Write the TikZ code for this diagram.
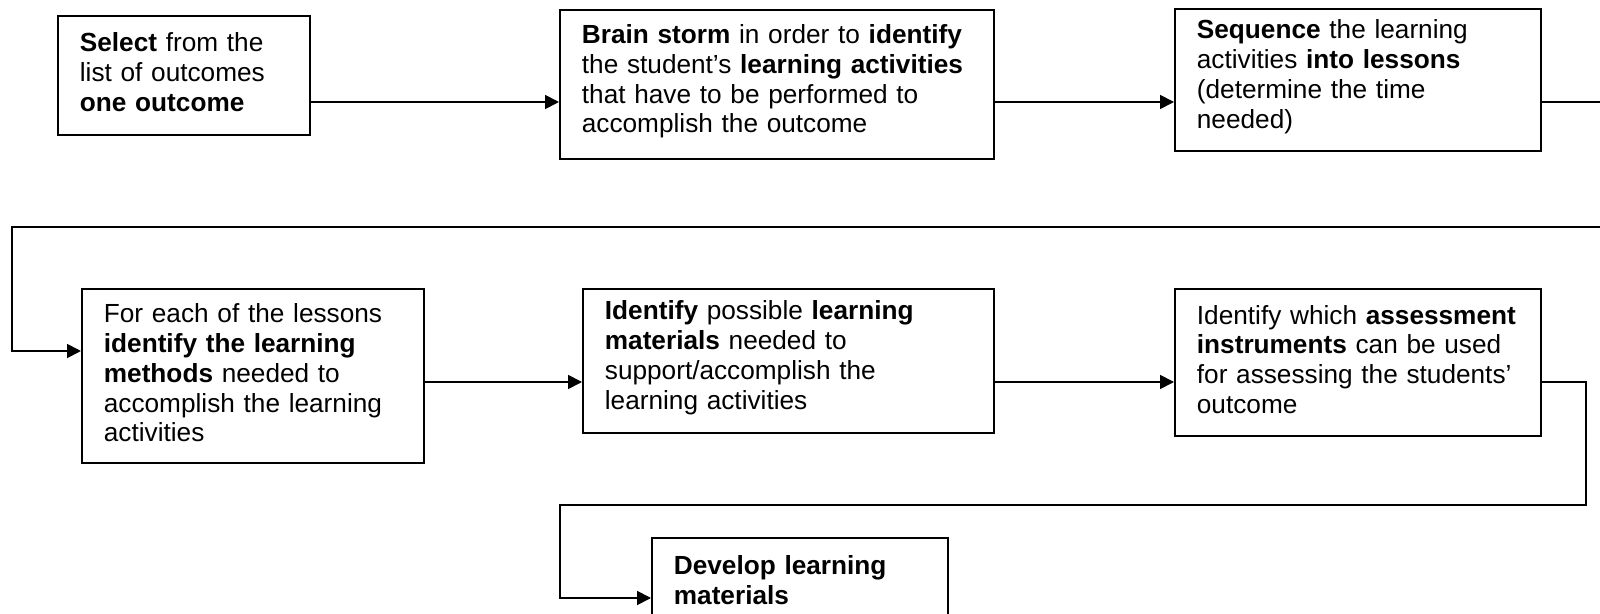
\documentclass[tikz,border=0pt]{standalone}
\usepackage{fontspec}
\setmainfont{Liberation Sans}
\usetikzlibrary{arrows.meta}

\begin{document}
\begin{tikzpicture}[x=0.5pt,y=-0.5pt,>={Triangle[length=7pt,width=7pt]},
    stage/.style 2 args={draw,line width=0.9pt,anchor=north west,align=left,
      inner xsep=11pt,inner ysep=0pt,text width=#1,minimum height=#2,
      font=\fontsize{13.1}{14.9}\selectfont,
      execute at end node={\endgraf\vspace*{3pt}}},
    link/.style={line width=0.9pt}]
    \useasboundingbox (0,0) rectangle (1600,614);

    % first row
    \node[stage={104pt}{59.5pt}] (select) at (57,15)
      {\textbf{Select} from the\\list of outcomes\\\textbf{one outcome}};
    \node[stage={195pt}{74.5pt}] (brain) at (559,9)
      {\textbf{Brain storm} in order to \textbf{identify}\\the student’s \textbf{learning activities}\\that have to be performed to\\accomplish the outcome};
    \node[stage={161pt}{71pt}] (sequence) at (1174,8)
      {\textbf{Sequence} the learning\\activities \textbf{into lessons}\\(determine the time\\needed)};

    % second row
    \node[stage={149pt}{87pt}] (methods) at (81,288)
      {For each of the lessons\\\textbf{identify the learning}\\\textbf{methods} needed to\\accomplish the learning\\activities};
    \node[stage={183.5pt}{72pt}] (materials) at (582,288)
      {\textbf{Identify} possible \textbf{learning}\\\textbf{materials} needed to\\support/accomplish the\\learning activities};
    \node[stage={161pt}{73.5pt}] (assess) at (1174,288)
      {Identify which \textbf{assessment}\\\textbf{instruments} can be used\\for assessing the students’\\outcome};

    % last box
    \node[stage={126pt}{45pt}] (develop) at (651,537)
      {\textbf{Develop learning}\\\textbf{materials}};

    \coordinate (row1) at (0,102);
    \coordinate (row2) at (0,351);
    \coordinate (row3) at (0,382);
    \coordinate (row4) at (0,598);
    \coordinate (turnA) at (1640,227);
    \coordinate (turnB) at (12,227);
    \coordinate (turnC) at (1586,505);
    \coordinate (turnD) at (560,505);

    \draw[link,->] (select.east |- row1) -- (brain.west |- row1);
    \draw[link,->] (brain.east |- row1) -- (sequence.west |- row1);
    \draw[link,->] (sequence.east |- row1) -| (turnA) -- (turnB) |- (methods.west |- row2);
    \draw[link,->] (methods.east |- row3) -- (materials.west |- row3);
    \draw[link,->] (materials.east |- row3) -- (assess.west |- row3);
    \draw[link,->] (assess.east |- row3) -| (turnC) -- (turnD) |- (develop.west |- row4);

  \end{tikzpicture}
\end{document}
